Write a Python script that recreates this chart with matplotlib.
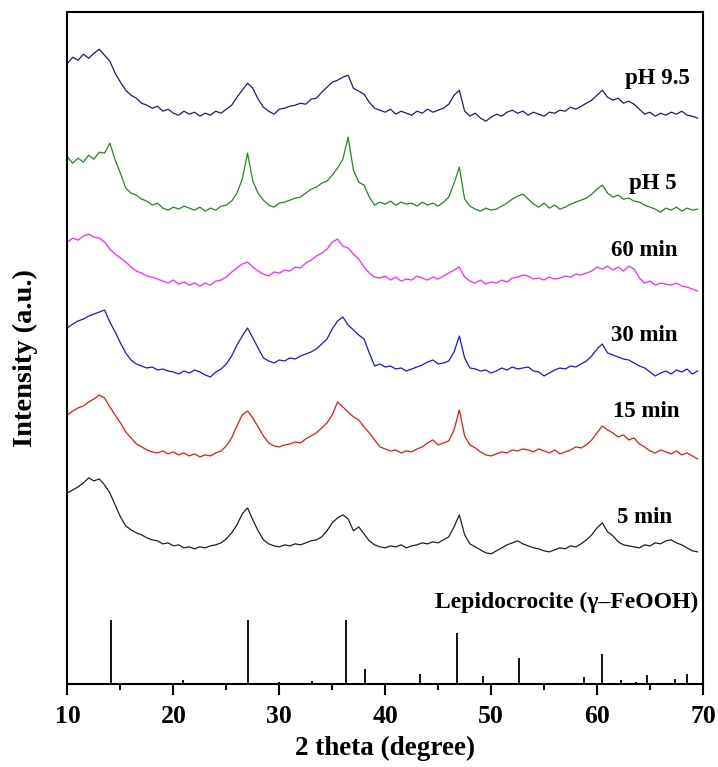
import matplotlib
matplotlib.use('Agg')
import matplotlib.pyplot as plt
import numpy as np

plt.rcParams['font.family'] = 'Liberation Serif'
plt.rcParams['font.weight'] = 'bold'

# 2 theta scan grid (degree)
two_theta = np.arange(10, 69.75, 0.5)

ph95 = [62, 68, 65, 71, 67, 72, 76, 70, 64, 52, 43, 35, 30, 27, 22, 20, 17, 19, 14, 16,
        12, 10, 14, 11, 13, 9, 12, 10, 14, 12, 16, 20, 28, 35, 42, 37, 26, 18, 14, 11,
        16, 17, 19, 20, 22, 21, 26, 27, 33, 38, 43, 45, 48, 50, 37, 34, 31, 23, 17, 15,
        13, 16, 11, 14, 12, 10, 14, 12, 16, 13, 15, 17, 21, 30, 35, 14, 9, 12, 7, 4,
        8, 11, 9, 13, 15, 12, 14, 10, 13, 11, 9, 13, 12, 15, 14, 18, 16, 19, 22, 25,
        30, 35, 28, 25, 27, 22, 24, 21, 16, 11, 13, 9, 12, 10, 13, 11, 14, 10, 9, 7]
ph5 = [58, 52, 57, 53, 60, 56, 63, 62, 72, 55, 42, 27, 22, 20, 16, 14, 10, 12, 7, 5,
       8, 6, 9, 7, 5, 8, 4, 7, 5, 9, 10, 14, 22, 36, 62, 34, 22, 15, 10, 8,
       12, 13, 15, 17, 18, 22, 26, 28, 32, 34, 40, 47, 56, 78, 45, 33, 30, 18, 10, 13,
       11, 14, 10, 13, 11, 12, 9, 13, 10, 12, 9, 13, 18, 32, 48, 16, 9, 6, 4, 7,
       5, 6, 9, 12, 16, 19, 21, 16, 11, 8, 12, 7, 10, 6, 8, 11, 13, 15, 17, 21,
       26, 30, 22, 18, 20, 16, 17, 14, 13, 10, 8, 6, 3, 7, 5, 8, 4, 7, 5, 6]
min60 = [50, 54, 52, 56, 58, 55, 54, 50, 43, 38, 34, 30, 25, 21, 19, 16, 15, 13, 11, 9,
         12, 8, 10, 7, 9, 6, 9, 7, 11, 12, 15, 20, 24, 28, 30, 25, 21, 18, 16, 20,
         19, 22, 21, 25, 24, 29, 32, 36, 39, 43, 50, 53, 46, 44, 38, 33, 25, 19, 15, 14,
         16, 12, 15, 11, 13, 12, 16, 14, 12, 15, 13, 16, 19, 22, 25, 15, 11, 9, 12, 8,
         10, 9, 12, 10, 14, 15, 17, 16, 13, 14, 12, 15, 13, 14, 16, 15, 18, 17, 19, 21,
         25, 23, 26, 22, 25, 21, 26, 23, 14, 9, 11, 7, 9, 8, 7, 9, 6, 5, 3, 1]
min30 = [52, 56, 59, 61, 64, 66, 68, 70, 58, 48, 37, 27, 20, 16, 14, 12, 13, 10, 11, 9,
         8, 6, 9, 7, 10, 8, 5, 3, 8, 11, 16, 24, 35, 44, 52, 42, 32, 22, 19, 17,
         20, 19, 22, 21, 24, 26, 28, 31, 36, 41, 51, 59, 63, 55, 50, 45, 41, 27, 14, 16,
         13, 14, 11, 12, 9, 11, 13, 15, 18, 20, 16, 17, 19, 28, 44, 22, 12, 11, 9, 10,
         7, 9, 12, 10, 13, 11, 12, 13, 9, 8, 4, 7, 10, 12, 11, 14, 13, 16, 19, 24,
         31, 36, 27, 25, 23, 21, 20, 17, 14, 12, 8, 4, 7, 9, 6, 10, 8, 11, 6, 9]
min15 = [45, 49, 52, 54, 58, 61, 65, 62, 53, 45, 37, 28, 22, 16, 13, 10, 8, 7, 9, 6,
         8, 5, 7, 4, 6, 3, 5, 4, 7, 9, 14, 22, 34, 45, 49, 42, 33, 24, 17, 14,
         13, 15, 16, 18, 17, 21, 24, 27, 32, 37, 45, 58, 53, 48, 43, 40, 33, 27, 20, 13,
         11, 9, 10, 7, 9, 8, 11, 13, 17, 20, 15, 17, 19, 30, 50, 24, 15, 12, 8, 5,
         4, 6, 8, 7, 10, 9, 11, 10, 8, 11, 9, 7, 10, 6, 8, 10, 13, 12, 15, 20,
         27, 34, 30, 27, 23, 25, 20, 22, 16, 13, 9, 7, 10, 8, 6, 9, 5, 7, 4, 1]
min5 = [64, 67, 70, 74, 79, 76, 78, 72, 64, 52, 40, 31, 27, 24, 22, 19, 17, 16, 13, 14,
        11, 12, 9, 10, 8, 10, 9, 11, 12, 14, 18, 24, 32, 43, 49, 37, 26, 17, 13, 11,
        10, 12, 11, 13, 12, 14, 16, 17, 20, 26, 34, 39, 42, 38, 26, 30, 23, 16, 12, 10,
        9, 11, 10, 12, 9, 11, 12, 14, 13, 15, 14, 17, 20, 30, 42, 22, 13, 10, 7, 4,
        3, 6, 9, 12, 14, 16, 13, 11, 9, 8, 6, 5, 7, 9, 8, 11, 10, 13, 17, 22,
        29, 34, 25, 21, 15, 12, 11, 10, 9, 12, 11, 14, 13, 16, 17, 14, 12, 9, 6, 5]

series = [ph95, ph5, min60, min30, min15, min5]
labels = ['pH 9.5', 'pH 5', '60 min', '30 min', '15 min', '5 min']
colors = ['#1c1c7c', '#1f8a1f', '#ff22ff', '#1515f0', '#f01515', '#202020']
offsets = [477, 387, 310, 222, 142, 45]
label_pos = [(68.8, 524), (67.5, 419), (67.6, 352), (67.6, 267), (67.8, 190), (67.1, 84)]

# lepidocrocite reference pattern
ref_pos = [14.1, 20.9, 27.0, 29.0, 30.0, 32.2, 33.1, 36.3, 38.1, 39.9, 41.5, 43.3, 45.0,
           46.8, 49.2, 52.6, 58.8, 60.5, 62.3, 63.7, 64.7, 67.4, 68.5]
ref_int = [100, 6, 100, 2, 3, 2, 5, 100, 24, 2, 2, 16, 2,
           80, 12, 40, 11, 47, 7, 3, 14, 8, 16]

fig = plt.figure(figsize=(7.18, 7.67), dpi=100)
ax = fig.add_axes([0.094, 0.231, 0.885, 0.753])
ax2 = fig.add_axes([0.094, 0.108, 0.885, 0.123], sharex=ax)

for y, lab, c, off, (lx, ly) in zip(series, labels, colors, offsets, label_pos):
    ax.plot(two_theta, np.array(y) + off, color=c, lw=0.9)
    ax.text(lx, ly, lab, ha='right', va='center', fontsize=16.5, fontweight='bold')

ax.set_ylim(12, 590)
ax.set_xlim(10, 70)
ax.spines['bottom'].set_visible(False)
ax.tick_params(bottom=False, labelbottom=False, left=False, labelleft=False)
for s in ['top', 'left', 'right']:
    ax.spines[s].set_linewidth(1.5)

ax2.vlines(ref_pos, 0, ref_int, color='black', lw=1.3)
ax2.set_ylim(0, 147)
ax2.set_xlim(10, 70)
ax2.spines['top'].set_visible(False)
for s in ['bottom', 'left', 'right']:
    ax2.spines[s].set_linewidth(1.5)
ax2.set_yticks([])
ax2.set_xticks(np.arange(10, 71, 10))
ax2.set_xticks(np.arange(15, 70, 10), minor=True)
ax2.tick_params(axis='x', which='major', direction='out', length=8, width=1.5,
                labelsize=18.5, pad=7)
ax2.tick_params(axis='x', which='minor', direction='out', length=4, width=1.5)
ax2.text(69.6, 127, 'Lepidocrocite (\u03b3\u2013FeOOH)', ha='right', va='center',
         fontsize=17, fontweight='bold')
ax2.set_xlabel('2 theta (degree)', fontsize=19.5, fontweight='bold', labelpad=6)

fig.text(0.036, 0.533, 'Intensity (a.u.)', rotation=90, ha='center', va='center',
         fontsize=20.5, fontweight='bold')

fig.savefig('out.png', dpi=100)
